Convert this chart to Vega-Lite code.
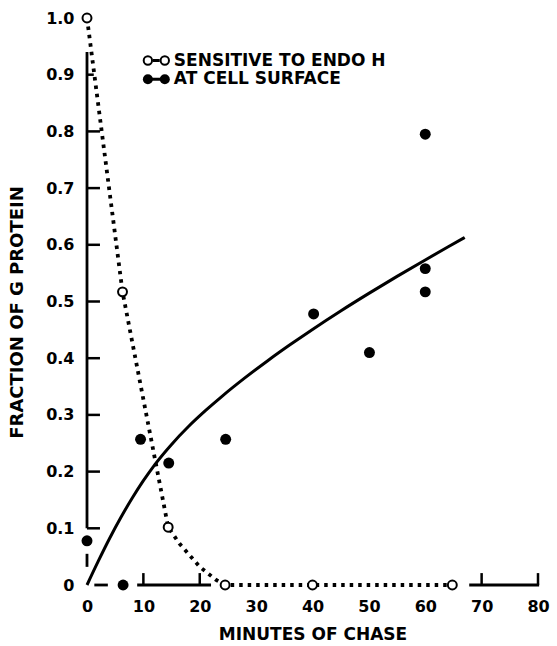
{
  "$schema": "https://vega.github.io/schema/vega-lite/v6.json",
  "width": 451,
  "height": 567,
  "autosize": "none",
  "padding": {"left": 87, "top": 18, "right": 19, "bottom": 61},
  "background": "white",
  "config": {
    "view": {"stroke": null},
    "font": "DejaVu Sans",
    "axis": {"labelFont": "DejaVu Sans", "titleFont": "DejaVu Sans", "labelColor": "black", "titleColor": "black"}
  },
  "datasets": {
    "frame": [
      {"x": 0, "x2": 0, "y": 0.1, "y2": 0.94, "w": "axis"},
      {"x": 0, "x2": 0, "y": 0.032, "y2": 0.055, "w": "axis"},
      {"x": 1.3, "x2": 3.7, "y": 0, "y2": 0, "w": "axis"},
      {"x": 8.9, "x2": 22, "y": 0, "y2": 0, "w": "axis"},
      {"x": 67.8, "x2": 80.2, "y": 0, "y2": 0, "w": "axis"},
      {"x": 0, "x2": 2.3, "y": 0.1, "y2": 0.1, "w": "tick"},
      {"x": 0, "x2": 2.3, "y": 0.2, "y2": 0.2, "w": "tick"},
      {"x": 0, "x2": 2.3, "y": 0.3, "y2": 0.3, "w": "tick"},
      {"x": 0, "x2": 2.3, "y": 0.4, "y2": 0.4, "w": "tick"},
      {"x": 0, "x2": 2.3, "y": 0.5, "y2": 0.5, "w": "tick"},
      {"x": 0, "x2": 2.3, "y": 0.6, "y2": 0.6, "w": "tick"},
      {"x": 0, "x2": 2.3, "y": 0.7, "y2": 0.7, "w": "tick"},
      {"x": 0, "x2": 2.3, "y": 0.8, "y2": 0.8, "w": "tick"},
      {"x": 0, "x2": 1.2, "y": 0.9, "y2": 0.9, "w": "tick"},
      {"x": 10, "x2": 10, "y": 0, "y2": 0.021, "w": "tick"},
      {"x": 20, "x2": 20, "y": 0, "y2": 0.021, "w": "tick"},
      {"x": 70, "x2": 70, "y": 0, "y2": 0.021, "w": "tick"},
      {"x": 80, "x2": 80, "y": 0, "y2": 0.021, "w": "tick"}
    ],
    "fit": [
      {"x": 0, "y": 0},
      {"x": 2, "y": 0.042},
      {"x": 4, "y": 0.082},
      {"x": 6, "y": 0.119},
      {"x": 8, "y": 0.153},
      {"x": 10, "y": 0.184},
      {"x": 12, "y": 0.212},
      {"x": 15, "y": 0.248},
      {"x": 18, "y": 0.2795},
      {"x": 21, "y": 0.3074},
      {"x": 24, "y": 0.3332},
      {"x": 28, "y": 0.3652},
      {"x": 32, "y": 0.3952},
      {"x": 36, "y": 0.4236},
      {"x": 40, "y": 0.4508},
      {"x": 45, "y": 0.4833},
      {"x": 50, "y": 0.5143},
      {"x": 55, "y": 0.5443},
      {"x": 60, "y": 0.5733},
      {"x": 64, "y": 0.5961},
      {"x": 67, "y": 0.6129}
    ],
    "endoLine": [
      {"x": 0, "y": 1.0},
      {"x": 6.3, "y": 0.517},
      {"x": 14.4, "y": 0.102},
      {"x": 16.4, "y": 0.073},
      {"x": 20, "y": 0.032},
      {"x": 22.9, "y": 0.009},
      {"x": 24.5, "y": 0},
      {"x": 40, "y": 0},
      {"x": 64.8, "y": 0}
    ],
    "endo": [
      {"x": 0, "y": 1.0},
      {"x": 6.3, "y": 0.517},
      {"x": 14.4, "y": 0.102},
      {"x": 24.5, "y": 0},
      {"x": 40, "y": 0},
      {"x": 64.8, "y": 0}
    ],
    "surface": [
      {"x": 0, "y": 0.078},
      {"x": 6.4, "y": 0},
      {"x": 9.5, "y": 0.257},
      {"x": 14.5, "y": 0.215},
      {"x": 24.6, "y": 0.257},
      {"x": 40.2, "y": 0.478},
      {"x": 50.1, "y": 0.41},
      {"x": 60, "y": 0.795},
      {"x": 60, "y": 0.558},
      {"x": 60, "y": 0.517}
    ],
    "legend": [
      {"series": "SENSITIVE TO ENDO H", "x": 10.8, "x2": 13.8, "lx": 11.7, "lx2": 12.9, "y": 0.925},
      {"series": "AT CELL SURFACE", "x": 10.8, "x2": 13.8, "lx": 10.8, "lx2": 13.8, "y": 0.892}
    ]
  },
  "layer": [
    {
      "data": {"name": "frame"},
      "mark": {"type": "rule", "color": "black", "strokeCap": "butt", "clip": false},
      "encoding": {
        "x": {
          "field": "x", "type": "quantitative",
          "scale": {"domain": [0, 80], "nice": false, "zero": false},
          "axis": {
            "domain": false, "ticks": false, "grid": false,
            "values": [0, 10, 20, 30, 40, 50, 60, 70, 80],
            "labelFontSize": 16, "labelFontWeight": "bold", "labelPadding": 13,
            "labelFlush": false,
            "title": "MINUTES OF CHASE", "titleFontSize": 17, "titleFontWeight": "bold", "titlePadding": 12
          }
        },
        "x2": {"field": "x2"},
        "y": {
          "field": "y", "type": "quantitative",
          "scale": {"domain": [0, 1], "nice": false, "zero": false},
          "axis": {
            "domain": false, "ticks": false, "grid": false,
            "values": [0, 0.1, 0.2, 0.3, 0.4, 0.5, 0.6, 0.7, 0.8, 0.9, 1.0],
            "labelExpr": "datum.value == 0 ? '0' : format(datum.value, '.1f')",
            "labelFontSize": 16, "labelFontWeight": "bold", "labelPadding": 13,
            "labelFlush": false,
            "title": "FRACTION OF G PROTEIN", "titleFontSize": 18, "titleFontWeight": "bold", "titlePadding": 19,
            "titleY": 294
          }
        },
        "y2": {"field": "y2"},
        "strokeWidth": {"field": "w", "type": "nominal", "scale": {"domain": ["axis", "tick"], "range": [2.8, 2.5]}, "legend": null}
      }
    },
    {
      "data": {"name": "fit"},
      "mark": {"type": "line", "color": "black", "strokeWidth": 3, "interpolate": "monotone", "clip": false},
      "encoding": {
        "x": {"field": "x", "type": "quantitative"},
        "y": {"field": "y", "type": "quantitative"}
      }
    },
    {
      "data": {"name": "endoLine"},
      "mark": {"type": "line", "color": "black", "strokeWidth": 3.8, "strokeDash": [3.5, 5], "strokeCap": "butt", "clip": false},
      "encoding": {
        "x": {"field": "x", "type": "quantitative"},
        "y": {"field": "y", "type": "quantitative"}
      }
    },
    {
      "data": {"name": "surface"},
      "mark": {"type": "point", "shape": "circle", "filled": true, "color": "black", "opacity": 1, "size": 120, "clip": false},
      "encoding": {
        "x": {"field": "x", "type": "quantitative"},
        "y": {"field": "y", "type": "quantitative"}
      }
    },
    {
      "data": {"name": "endo"},
      "mark": {"type": "point", "shape": "circle", "filled": true, "fill": "white", "stroke": "black", "strokeWidth": 2, "opacity": 1, "size": 80, "clip": false},
      "encoding": {
        "x": {"field": "x", "type": "quantitative"},
        "y": {"field": "y", "type": "quantitative"}
      }
    },
    {
      "data": {"name": "legend"},
      "mark": {"type": "rule", "color": "black", "strokeWidth": 3},
      "encoding": {
        "x": {"field": "lx", "type": "quantitative"},
        "x2": {"field": "lx2"},
        "y": {"field": "y", "type": "quantitative"}
      }
    },
    {
      "data": {"name": "legend"},
      "transform": [
        {"fold": ["x", "x2"], "as": ["end", "px"]},
        {"filter": "datum.series == 'AT CELL SURFACE'"}
      ],
      "mark": {"type": "point", "shape": "circle", "filled": true, "color": "black", "opacity": 1, "size": 100},
      "encoding": {
        "x": {"field": "px", "type": "quantitative"},
        "y": {"field": "y", "type": "quantitative"}
      }
    },
    {
      "data": {"name": "legend"},
      "transform": [
        {"fold": ["x", "x2"], "as": ["end", "px"]},
        {"filter": "datum.series == 'SENSITIVE TO ENDO H'"}
      ],
      "mark": {"type": "point", "shape": "circle", "filled": true, "fill": "white", "stroke": "black", "strokeWidth": 2, "opacity": 1, "size": 70},
      "encoding": {
        "x": {"field": "px", "type": "quantitative"},
        "y": {"field": "y", "type": "quantitative"}
      }
    },
    {
      "data": {"name": "legend"},
      "mark": {"type": "text", "align": "left", "baseline": "middle", "dx": 9, "fontSize": 17, "fontWeight": "bold", "color": "black", "font": "DejaVu Sans"},
      "encoding": {
        "x": {"field": "x2", "type": "quantitative"},
        "y": {"field": "y", "type": "quantitative"},
        "text": {"field": "series"}
      }
    }
  ]
}
